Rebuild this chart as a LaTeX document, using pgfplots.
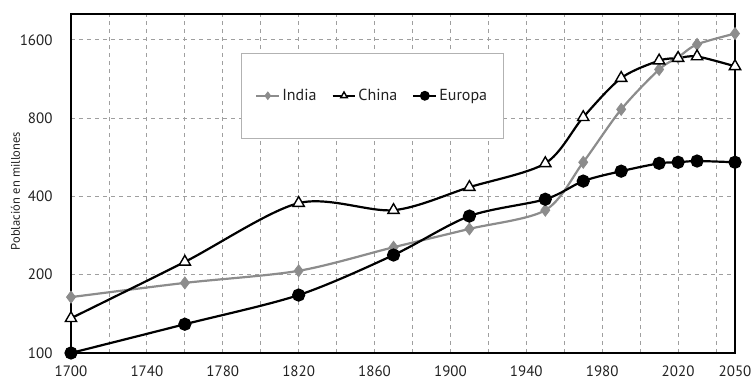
\documentclass[border=0pt]{standalone}
\usepackage{pgfplots}
\pgfplotsset{compat=1.18}
\usepackage{fontspec}
\setmainfont{PT Sans}
\definecolor{indiagray}{HTML}{8C8C8C}
\definecolor{txt}{HTML}{222222}
\begin{document}
\begin{tikzpicture}
\begin{axis}[
  at={(0,0)}, anchor=south west,
  scale only axis, width=664pt, height=339pt,
  xmin=1700, xmax=2050,
  ymode=log, log basis y=2, ymin=100, ymax=2010,
  xtick={1700,1740,1780,1820,1860,1900,1940,1980,2020,2050},
  xticklabels={1700,1740,1780,1820,1860,1900,1940,1980,2020,2050},
  minor xtick={1720,1760,1800,1840,1880,1920,1960,2000,2040},
  ytick={100,200,400,800,1600},
  yticklabels={100,200,400,800,1600},
  minor ytick={},
  xmajorgrids, xminorgrids, ymajorgrids,
  major grid style={gray!75, line width=0.8pt, dash pattern=on 4pt off 4pt},
  minor grid style={gray!75, line width=0.8pt, dash pattern=on 4pt off 4pt},
  major tick length=0pt, minor tick length=0pt,
  axis line style={line width=1.8pt, black},
  ticklabel style={font=\fontsize{15}{17}\selectfont, text=txt},
  xticklabel style={yshift=-9pt},
  yticklabel style={xshift=-15pt},
  ylabel={Población en millones},
  ylabel style={at={(axis description cs:-0.0836,0.478)}, anchor=center, font=\fontsize{12.5}{15}\selectfont, text=txt},
  clip=false,
  legend columns=3,
  legend style={at={(0.256,0.885)}, anchor=north west, draw=gray!60, line width=0.7pt,
    inner xsep=14pt, inner ysep=34pt, font=\fontsize{16}{18}\selectfont, text=txt,
    /tikz/every even column/.append style={column sep=13pt}},
  legend image code/.code={\draw[mark repeat=2,mark phase=2,mark size=3.8pt] plot coordinates {(0cm,0cm) (0.4cm,0cm) (0.8cm,0cm)};},
]
\addplot[indiagray, line width=2.2pt, smooth, mark=diamond*, mark size=6pt,
  mark options={fill=indiagray, draw=indiagray, line width=0.8pt}]
  coordinates {(1700,164)(1760,186)(1820,207)(1870,255)(1910,300)(1950,354)(1970,541)(1990,864)(2010,1230)(2020,1370)(2030,1536)(2050,1690)};
\addlegendentry{India}
\addplot[black, line width=2.2pt, smooth, mark=triangle*, mark size=6.5pt,
  mark options={fill=white, draw=black, line width=1.4pt}]
  coordinates {(1700,136)(1760,224)(1820,377)(1870,354)(1910,434)(1950,536)(1970,806)(1990,1140)(2010,1330)(2020,1360)(2030,1380)(2050,1265)};
\addlegendentry{China}
\addplot[black, line width=2.2pt, smooth, mark=*, mark size=5.5pt,
  mark options={fill=black, draw=black}]
  coordinates {(1700,100)(1760,129)(1820,167)(1870,238)(1910,336)(1950,390)(1970,458)(1990,500)(2010,536)(2020,541)(2030,547)(2050,541)};
\addlegendentry{Europa}
\end{axis}
\pgfresetboundingbox
\path[use as bounding box] (-71pt,-28pt) rectangle (680pt,353pt);
\end{tikzpicture}
\end{document}
